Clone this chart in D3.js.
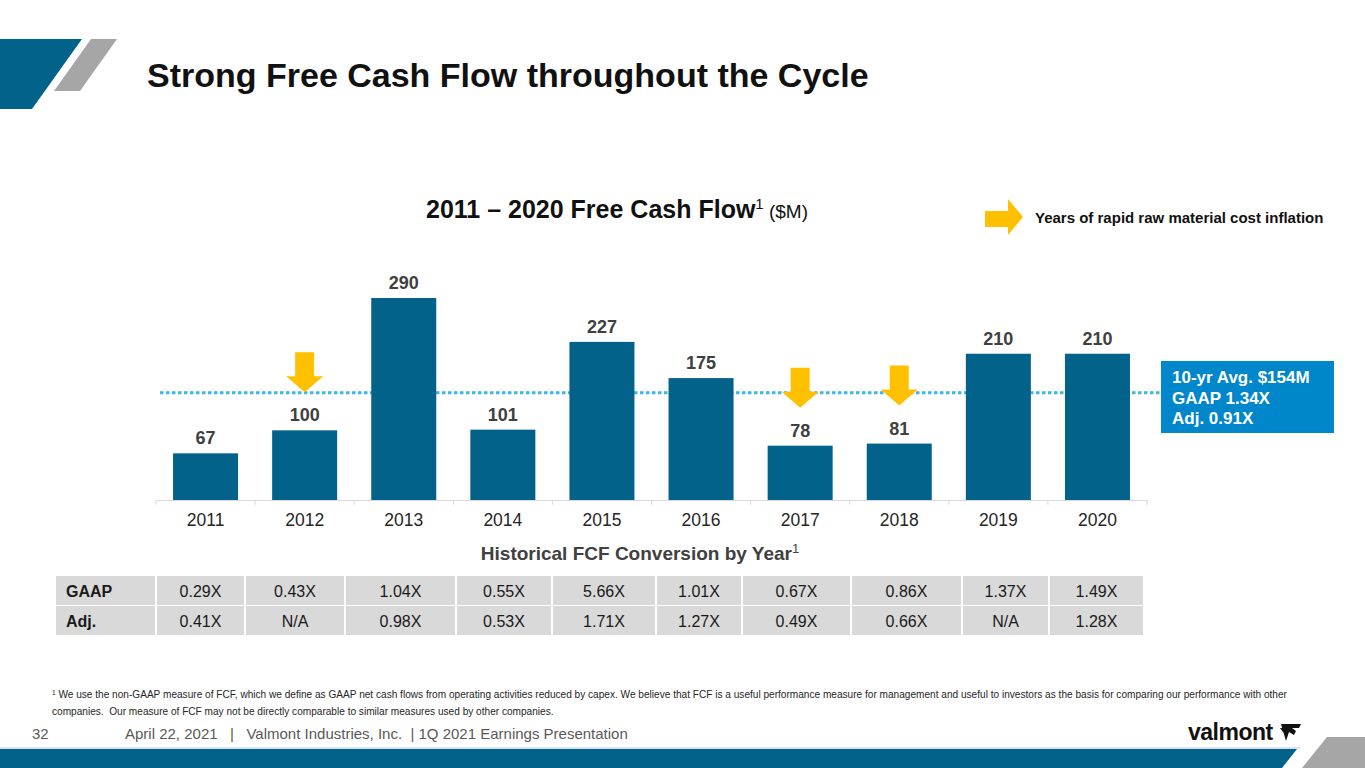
<!DOCTYPE html>
<html>
<head>
<meta charset="utf-8">
<script src="https://cdn.jsdelivr.net/npm/d3@7"></script>
<style>
  body { margin: 0; background: #fff; }
  svg { display: block; font-family: "Liberation Sans", Arial, sans-serif; }
</style>
</head>
<body>
<div id="chart"></div>
<script>
// chart data
const years = ['2011', '2012', '2013', '2014', '2015', '2016', '2017', '2018', '2019', '2020'];
const fcf = [67, 100, 290, 101, 227, 175, 78, 81, 210, 210];
const inflationYears = ['2012', '2017', '2018'];
const avgFcf = 154;
const avgLines = ['10-yr Avg. $154M', 'GAAP 1.34X', 'Adj. 0.91X'];

// conversion table
const rowLabels = ['GAAP', 'Adj.'];
const gaapConv = ['0.29X', '0.43X', '1.04X', '0.55X', '5.66X', '1.01X', '0.67X', '0.86X', '1.37X', '1.49X'];
const adjConv = ['0.41X', 'N/A', '0.98X', '0.53X', '1.71X', '1.27X', '0.49X', '0.66X', 'N/A', '1.28X'];

const W = 1365, H = 768;
const blue = '#03628A';
const yellow = '#FFC000';

const svg = d3.select('#chart').append('svg')
    .attr('width', W)
    .attr('height', H);

// --- slide decoration ---
svg.append('polygon').attr('points', '0,39 82,39 32,109 0,109').attr('fill', blue);
svg.append('polygon').attr('points', '91,39 117,39 80,91 54,91').attr('fill', '#A6A6A6');

svg.append('text')
    .attr('x', 147).attr('y', 87)
    .attr('font-size', 34).attr('font-weight', 'bold').attr('fill', '#111')
    .text('Strong Free Cash Flow throughout the Cycle');

// chart title
const ct = svg.append('text')
    .attr('x', 617).attr('y', 218)
    .attr('text-anchor', 'middle')
    .attr('fill', '#111');
ct.append('tspan').attr('font-size', 25).attr('font-weight', 'bold').text('2011 \u2013 2020 Free Cash Flow');
ct.append('tspan').attr('font-size', 15).attr('dy', -9).text('1');
ct.append('tspan').attr('font-size', 19).attr('dy', 9).text(' ($M)');

// legend
svg.append('polygon')
    .attr('points', '985,211 1008,211 1008,199 1023,217 1008,235 1008,227 985,227')
    .attr('fill', yellow);
svg.append('text')
    .attr('x', 1035).attr('y', 223)
    .attr('font-size', 15).attr('font-weight', 'bold').attr('fill', '#111')
    .text('Years of rapid raw material cost inflation');

// --- bar chart ---
const x = d3.scaleBand()
    .domain(years)
    .range([156, 1147])
    .paddingInner(0.344)
    .paddingOuter(0.172);

const y = d3.scaleLinear()
    .domain([0, 290])
    .range([500, 298]);

// average line (drawn behind bars)
svg.append('line')
    .attr('x1', 160).attr('x2', 1160)
    .attr('y1', y(avgFcf)).attr('y2', y(avgFcf))
    .attr('stroke', '#3DB7E4')
    .attr('stroke-width', 3)
    .attr('stroke-dasharray', '3.5,2.5');

// x axis
const xAxis = svg.append('g')
    .attr('transform', `translate(0, ${y(0)})`)
    .call(d3.axisBottom(x).tickSize(0).tickPadding(14));
xAxis.select('.domain').attr('stroke', '#D9D9D9');
xAxis.selectAll('text')
    .attr('font-size', 17.5)
    .attr('fill', '#262626')
    .attr('font-family', '"Liberation Sans", Arial, sans-serif');

// tick marks between categories
xAxis.selectAll('line.sep')
    .data(d3.range(years.length + 1))
    .enter()
    .append('line')
    .attr('class', 'sep')
    .attr('x1', i => x.range()[0] + i * x.step())
    .attr('x2', i => x.range()[0] + i * x.step())
    .attr('y1', 0).attr('y2', 5)
    .attr('stroke', '#D9D9D9');

const barData = years.map((yr, i) => ({year: yr, value: fcf[i]}));

svg.selectAll('rect.bar')
    .data(barData)
    .enter()
    .append('rect')
    .attr('class', 'bar')
    .attr('x', d => x(d.year))
    .attr('y', d => y(d.value))
    .attr('width', x.bandwidth())
    .attr('height', d => y(0) - y(d.value))
    .attr('fill', blue);

svg.selectAll('text.value-label')
    .data(barData)
    .enter()
    .append('text')
    .attr('class', 'value-label')
    .attr('x', d => x(d.year) + x.bandwidth() / 2)
    .attr('y', d => y(d.value) - 9)
    .attr('text-anchor', 'middle')
    .attr('font-size', 18)
    .attr('font-weight', 'bold')
    .attr('fill', '#404040')
    .text(d => d.value);

// down arrows over inflation years
svg.selectAll('polygon.arrow')
    .data(barData.filter(d => inflationYears.includes(d.year)))
    .enter()
    .append('polygon')
    .attr('class', 'arrow')
    .attr('points', d => {
        const cx = x(d.year) + x.bandwidth() / 2;
        const ty = y(d.value) - 38;
        return [
            [cx - 9.5, ty - 40], [cx + 9.5, ty - 40], [cx + 9.5, ty - 16],
            [cx + 18.5, ty - 16], [cx, ty], [cx - 18.5, ty - 16], [cx - 9.5, ty - 16]
        ].join(' ');
    })
    .attr('fill', yellow);

// average box
svg.append('rect')
    .attr('x', 1161).attr('y', 361)
    .attr('width', 173).attr('height', 72)
    .attr('fill', '#0087CB');
svg.selectAll('text.avg')
    .data(avgLines)
    .enter()
    .append('text')
    .attr('class', 'avg')
    .attr('x', 1172)
    .attr('y', (d, i) => 383 + i * 20.5)
    .attr('font-size', 17)
    .attr('font-weight', 'bold')
    .attr('fill', '#fff')
    .text(d => d);

// --- conversion table ---
const st = svg.append('text')
    .attr('x', 640).attr('y', 560)
    .attr('text-anchor', 'middle')
    .attr('fill', '#404040');
st.append('tspan').attr('font-size', 19).attr('font-weight', 'bold').text('Historical FCF Conversion by Year');
st.append('tspan').attr('font-size', 13).attr('dy', -7).text('1');

const colEdges = [56, 157, 246, 346, 457, 553, 657, 743, 852, 963, 1050, 1145];
const rowTops = [576, 606];
const rowH = 29;
const tableRows = [gaapConv, adjConv];

tableRows.forEach((vals, r) => {
    const cells = [rowLabels[r]].concat(vals);
    const g = svg.append('g');
    g.selectAll('rect')
        .data(cells)
        .enter()
        .append('rect')
        .attr('x', (d, i) => colEdges[i])
        .attr('y', rowTops[r])
        .attr('width', (d, i) => colEdges[i + 1] - colEdges[i] - 2)
        .attr('height', rowH)
        .attr('fill', '#D9D9D9');
    g.selectAll('text')
        .data(cells)
        .enter()
        .append('text')
        .attr('x', (d, i) => i === 0 ? colEdges[0] + 10 : (colEdges[i] + colEdges[i + 1] - 2) / 2)
        .attr('y', rowTops[r] + rowH / 2 + 6)
        .attr('text-anchor', (d, i) => i === 0 ? 'start' : 'middle')
        .attr('font-size', 16)
        .attr('font-weight', (d, i) => i === 0 ? 'bold' : 'normal')
        .attr('fill', '#1a1a1a')
        .text(d => d);
});

// --- footnote & footer ---
const fn = svg.append('text')
    .attr('x', 52).attr('y', 698)
    .attr('font-size', 10.1).attr('fill', '#262626');
fn.append('tspan').attr('font-size', 6.5).attr('dy', -3).text('1');
fn.append('tspan').attr('dy', 3).text(' We use the non-GAAP measure of FCF, which we define as GAAP net cash flows from operating activities reduced by capex. We believe that FCF is a useful performance measure for management and useful to investors as the basis for comparing our performance with other');
svg.append('text')
    .attr('x', 52).attr('y', 715)
    .attr('font-size', 10.1).attr('fill', '#262626')
    .attr('xml:space', 'preserve')
    .text('companies.  Our measure of FCF may not be directly comparable to similar measures used by other companies.');

svg.append('text')
    .attr('x', 32).attr('y', 739)
    .attr('font-size', 15).attr('fill', '#595959')
    .text('32');
svg.append('text')
    .attr('x', 125).attr('y', 739)
    .attr('font-size', 15).attr('fill', '#595959')
    .attr('xml:space', 'preserve')
    .text('April 22, 2021   |   Valmont Industries, Inc.  | 1Q 2021 Earnings Presentation');

// logo
svg.append('text')
    .attr('x', 1188).attr('y', 740)
    .attr('font-size', 23).attr('font-weight', 'bold').attr('fill', '#111')
    .attr('letter-spacing', -0.5)
    .text('valmont');
svg.append('path')
    .attr('d', 'M1281,724 L1301,724 L1299,728 L1292,728 L1296,731 L1294,735 L1289,732 L1286,741 Z M1280,728 L1284,728 L1286,736 Z')
    .attr('fill', '#111');

// bottom band
svg.append('rect').attr('x', 0).attr('y', 747).attr('width', 1300).attr('height', 2).attr('fill', '#D9E4EA');
svg.append('polygon').attr('points', '0,749 1297,749 1282,768 0,768').attr('fill', blue);
svg.append('polygon').attr('points', '1327,737 1365,737 1365,768 1302,768').attr('fill', '#A6A6A6');
</script>
</body>
</html>
